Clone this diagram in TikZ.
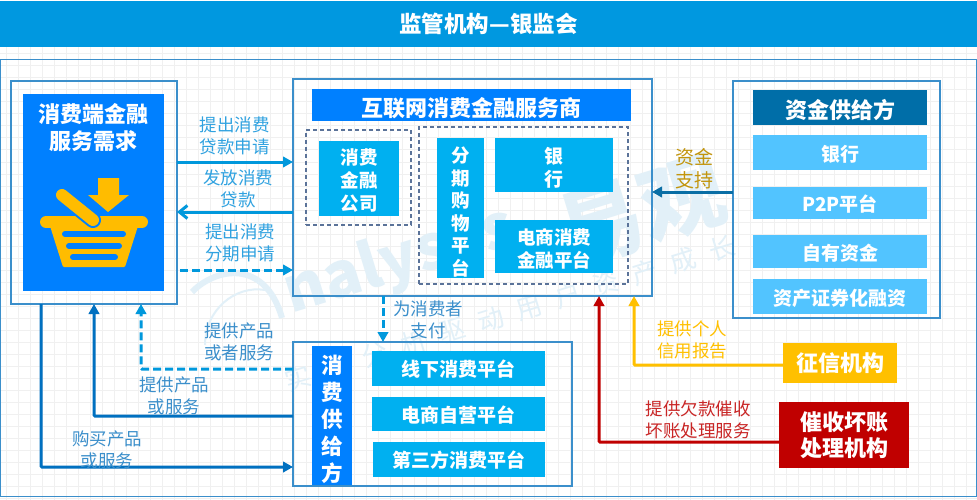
\documentclass[tikz,border=0pt]{standalone}
\usepackage{fontspec}
\setmainfont{Noto Sans CJK SC}
\newfontfamily\wmspaced[LetterSpace=55]{Noto Sans CJK SC}
\usetikzlibrary{arrows.meta,calc}
\definecolor{barblue}{HTML}{0098E0}
\definecolor{headblue}{HTML}{0080FF}
\definecolor{itemblue}{HTML}{00B0F0}
\definecolor{paleblue}{HTML}{52C4FF}
\definecolor{darkhead}{HTML}{006EA8}
\definecolor{edgeblue}{HTML}{3B8FCB}
\definecolor{solidblue}{HTML}{0070C0}
\definecolor{toparrow}{HTML}{0098DC}
\definecolor{toplabel}{HTML}{30A2E0}
\definecolor{fundarrow}{HTML}{0A6EA5}
\definecolor{dashgrey}{HTML}{5B7399}
\definecolor{gold}{HTML}{FFC000}
\definecolor{crimson}{HTML}{C00000}
\definecolor{basket}{HTML}{FFBC00}
\definecolor{wm}{HTML}{E2F0F8}
\tikzset{
  x=1pt,y=-1pt,
  solidbox/.style={inner sep=0pt,outer sep=0pt,align=center,text=white,font=\bfseries},
  outline/.style={inner sep=0pt,outer sep=0pt,draw=edgeblue,line width=1.5pt,fill=none},
  dashbox/.style={inner sep=0pt,outer sep=0pt,draw=dashgrey,line width=1.1pt,dash pattern=on 4pt off 3pt},
  wire/.style={line width=3pt,-{Triangle[length=10pt,width=10.5pt]},rounded corners=1pt},
  dashwire/.style={wire,dash pattern=on 8pt off 4pt},
  lbltext/.style={inner sep=0pt,align=center},
  gridline/.style={draw=black!6,line width=1pt},
  wmtext/.style={text=wm,inner sep=0pt}
}
% \bx{name}{x1}{y1}{x2}{y2}{style}{size}{leading}{text}; \bxs is the text's downward shift
\newcommand{\bxs}{0pt}
\newcommand{\bx}[9]{\node[#6,minimum width={(#4-#2)*1pt},minimum height={(#5-#3)*1pt},
   label={[solidbox,yshift=-\bxs,font=\bfseries\fontsize{#7}{#8}\selectfont]center:#9}] (#1) at ({(#2+#4)/2},{(#3+#5)/2}) {};}
\newcommand{\lab}[6]{\node[lbltext,text=#5,font=\fontsize{#4}{22}\selectfont] (#1) at (#2,#3) {#6};}
\begin{document}
\begin{tikzpicture}
\useasboundingbox (0,0) rectangle (977,500);
\fill[white] (0,0) rectangle (977,500);
% background grid
\foreach \gx in {6,18,...,976} \draw[gridline] (\gx,47) -- (\gx,500);
\foreach \gy in {54,66,...,498} \draw[gridline] (0,\gy) -- (977,\gy);
% watermark
\node[wmtext,rotate=17,font=\bfseries\fontsize{62}{62}\selectfont] (wma) at (400,262) {nalysys};
\node[wmtext,rotate=17,font=\bfseries\fontsize{85}{85}\selectfont] (wmb) at (642,212) {易观};
\node[wmtext,rotate=17,font=\wmspaced\fontsize{26}{26}\selectfont] (wmc) at (510,313) {实时分析驱动用户资产成长};
\draw[wm,line width=2pt] (205,345) .. controls (205,310) and (235,285) .. (265,290);
\draw[wm,line width=6pt] (192,292) .. controls (215,268) and (265,258) .. (282,318);
% title
\bx{title}{0}{1}{977}{47}{solidbox,fill=barblue}{22.5}{26}{监管机构—银监会}
% frame
\node[outline,minimum width=976pt,minimum height=437pt] (frame) at (488.5,278) {};
% left
\node[outline,minimum width=166pt,minimum height=223pt] (need) at (94,192.5) {};
\renewcommand{\bxs}{-65pt}
\bx{needhead}{23}{94}{164}{291}{solidbox,fill=headblue}{22}{27}{消费端金融\\服务需求}
% basket
\fill[basket] (98,178) -- (119,178) -- (119,195) -- (129,195) -- (108,212) -- (88,195) -- (98,195) -- cycle;
\fill[basket,rounded corners=1pt] (50,226) -- (138,226) -- (125,267) -- (63,267) -- cycle;
\draw[basket,line width=12pt,line cap=round] (46,222) -- (142,222);
\draw[headblue,line width=16pt,line cap=round] (62,195) -- (93,220);
\draw[basket,line width=12pt,line cap=round] (62,195) -- (93,220);
\draw[headblue,line width=6pt,line cap=round] (65,234) -- (123,234);
\draw[headblue,line width=6pt,line cap=round] (69,246) -- (119,246);
\draw[headblue,line width=6pt,line cap=round] (73,257) -- (115,257);
% centre
\node[outline,minimum width=359pt,minimum height=217pt] (svc) at (472.5,187.5) {};
\renewcommand{\bxs}{3pt}
\bx{svchead}{312}{89}{631}{121}{solidbox,fill=headblue}{22}{26}{互联网消费金融服务商}
\renewcommand{\bxs}{0pt}
\bx{dashA}{306}{130}{411}{225}{dashbox}{10}{10}{}
\bx{dashB}{419}{127}{628}{284}{dashbox}{10}{10}{}
\renewcommand{\bxs}{2.5pt}
\bx{cfc}{319}{141}{399}{216}{solidbox,fill=itemblue}{18.5}{23}{消费\\金融\\公司}
\renewcommand{\bxs}{4pt}
\bx{stage}{437}{138}{484}{278}{solidbox,fill=itemblue}{18.5}{22.5}{分\\期\\购\\物\\平\\台}
\renewcommand{\bxs}{2.5pt}
\bx{bank}{495}{138}{613}{192}{solidbox,fill=itemblue}{19}{23}{银\\行}
\renewcommand{\bxs}{2pt}
\bx{ecfin}{495}{220}{613}{273}{solidbox,fill=itemblue}{18.5}{23}{电商消费\\金融平台}
% right
\node[outline,minimum width=207pt,minimum height=237pt] (fund) at (836.5,199.5) {};
\renewcommand{\bxs}{3pt}
\bx{fundhead}{753}{90}{927}{125}{solidbox,fill=darkhead}{22}{26}{资金供给方}
\renewcommand{\bxs}{1.5pt}
\bx{fbank}{753}{135}{927}{170}{solidbox,fill=paleblue}{19}{24}{银行}
\bx{fp2p}{753}{187}{927}{219}{solidbox,fill=paleblue}{19}{24}{P2P平台}
\bx{fown}{753}{235}{927}{268}{solidbox,fill=paleblue}{19}{24}{自有资金}
\bx{fabs}{753}{279}{927}{314}{solidbox,fill=paleblue}{19}{24}{资产证券化融资}
% supply
\node[outline,minimum width=279pt,minimum height=144pt] (sup) at (432.5,414) {};
\renewcommand{\bxs}{4pt}
\bx{suphead}{312}{346}{352}{485}{solidbox,fill=headblue}{21.5}{27}{消\\费\\供\\给\\方}
\renewcommand{\bxs}{1pt}
\bx{off}{372}{351}{545}{386}{solidbox,fill=itemblue}{19}{24}{线下消费平台}
\bx{ecs}{372}{397}{545}{431}{solidbox,fill=itemblue}{19}{24}{电商自营平台}
\bx{third}{373}{442}{545}{477}{solidbox,fill=itemblue}{19}{24}{第三方消费平台}
% agencies
\renewcommand{\bxs}{0pt}
\bx{credit}{783}{343}{897}{383}{solidbox,fill=gold}{22}{26}{征信机构}
\bx{collect}{779}{402}{909}{468}{solidbox,fill=crimson}{22}{26}{催收坏账\\处理机构}
% connectors
\draw[wire,toparrow] (need.east |- 0,162) -- (svc.west |- 0,162);
\draw[line width=3pt,toparrow,-{Straight Barb[length=8pt,width=13pt]}] (svc.west |- 0,212) -- (need.east |- 0,212);
\draw[dashwire,toparrow] (180,270) -- (svc.west |- 0,270);
\draw[dashwire,toparrow] (svc.south -| 383,0) -- (sup.north -| 383,0);
\draw[dashwire,toparrow] (sup.west |- 0,369) -| (need.south -| 141,0);
\draw[wire,solidblue] (sup.west |- 0,416) -| (need.south -| 94,0);
\draw[wire,solidblue] (need.south -| 41,0) |- (sup.west |- 0,467);
\draw[wire,fundarrow] (fund.west |- 0,192) -- (svc.east |- 0,192);
\draw[wire,gold] (credit.west |- 0,365) -| (svc.south -| 634,0);
\draw[wire,crimson] (collect.west |- 0,442) -| (svc.south -| 599,0);
% labels
\lab{l1}{234.5}{136}{17.5}{toplabel}{提出消费\\贷款申请}
\lab{l2}{238}{189}{17.5}{toplabel}{发放消费\\贷款}
\lab{l3}{240}{243}{17.5}{toplabel}{提出消费\\分期申请}
\lab{l4}{428}{320}{17.5}{edgeblue}{为消费者\\支付}
\lab{l5}{239}{342}{17.5}{edgeblue}{提供产品\\或者服务}
\lab{l6}{174}{396}{17.5}{edgeblue}{提供产品\\或服务}
\lab{l7}{107}{450}{17.5}{edgeblue}{购买产品\\或服务}
\node[lbltext,text=gold!75!black!95,font=\fontsize{19}{23}\selectfont] (l8) at (694,169) {资金\\支持};
\lab{l9}{692}{340}{17.5}{gold}{提供个人\\信用报告}
\lab{l10}{698}{420}{17.5}{crimson!85!white}{提供欠款催收\\坏账处理服务}
\end{tikzpicture}
\end{document}
